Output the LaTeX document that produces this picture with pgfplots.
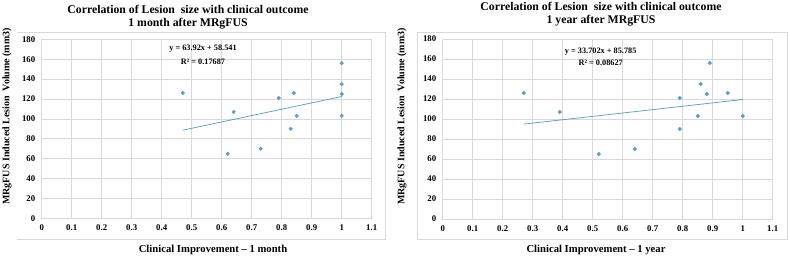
\documentclass[border=0pt]{standalone}
\usepackage{fontspec}
\setmainfont{Liberation Serif}
\usepackage{pgfplots}
\pgfplotsset{compat=1.18}
\definecolor{xlblue}{HTML}{5B9BD5}
\definecolor{xlgrid}{HTML}{D9D9D9}
\definecolor{xlframe}{HTML}{D9D9D9}
\pgfplotsset{
  xlstyle/.style={
    scale only axis,
    anchor=south west,
    xmin=0, xmax=1.1, ymin=0, ymax=180,
    xtick={0,0.1,...,1.1},
    xticklabels={0,0.1,0.2,0.3,0.4,0.5,0.6,0.7,0.8,0.9,1,1.1},
    ytick={0,20,...,180},
    grid=major,
    major grid style={xlgrid, line width=0.6bp},
    axis line style={xlgrid, line width=0.6bp},
    tick style={draw=none},
    /pgf/number format/assume math mode=true,
    ticklabel style={font=\fontsize{8.8}{10}\selectfont\bfseries},
    xticklabel style={yshift=-3bp},
    yticklabel style={xshift=-3bp},
    clip=false,
  }
}
\begin{document}
\begin{tikzpicture}[x=1bp,y=1bp]
\path[use as bounding box] (0,0) rectangle (789,259);
% frames
\draw[xlframe, line width=0.6bp] (17,20) -- (385,20) -- (385,227) -- (17,227);
\draw[xlframe, line width=0.6bp] (417,20) rectangle (787,227);

\begin{axis}[xlstyle, at={(41.7bp,40.7bp)}, width=330bp, height=179bp]
\addplot[only marks, mark=*, mark size=1.8bp, xlblue] coordinates {
(0.47,126) (0.62,65) (0.64,107) (0.73,70) (0.79,121) (0.83,90)
(0.84,126) (0.85,103) (1,156) (1,135) (1,125) (1,103)};
\addplot[xlblue, line width=0.75bp] coordinates {(0.47,88.583) (1,122.461)};
\end{axis}

\begin{axis}[xlstyle, at={(442.7bp,40bp)}, width=330bp, height=180bp]
\addplot[only marks, mark=*, mark size=1.8bp, xlblue] coordinates {
(0.27,126) (0.39,107) (0.52,65) (0.64,70) (0.79,121) (0.79,90)
(0.85,103) (0.86,135) (0.88,125) (0.89,156) (0.95,126) (1,103)};
\addplot[xlblue, line width=0.75bp] coordinates {(0.27,94.885) (1,119.487)};
\end{axis}

% titles
\node[font=\fontsize{11.8}{13.5}\selectfont\bfseries, align=center] at (188,242) {Correlation of Lesion\ \ size with clinical outcome\\1 month after MRgFUS};
\node[font=\fontsize{11.8}{13.5}\selectfont\bfseries, align=center] at (601,245) {Correlation of Lesion\ \ size with clinical outcome\\1 year after MRgFUS};
% equations
\node[font=\fontsize{8.3}{9}\selectfont\bfseries] at (203,210) {y = 63.92x + 58.541};
\node[font=\fontsize{8.3}{9}\selectfont\bfseries] at (203,197) {R² = 0.17687};
\node[font=\fontsize{8.3}{9}\selectfont\bfseries] at (600.7,207) {y = 33.702x + 85.785};
\node[font=\fontsize{8.3}{9}\selectfont\bfseries] at (600.7,196) {R² = 0.08627};
% axis labels
\node[font=\fontsize{10.7}{12}\selectfont\bfseries] at (213,9) {Clinical Improvement – 1 month};
\node[font=\fontsize{10.7}{12}\selectfont\bfseries] at (596,9) {Clinical Improvement – 1 year};
\node[font=\fontsize{10}{12}\selectfont\bfseries, rotate=90] at (7,142.5) {MRgFUS Induced Lesion\ \ Volume (mm3)};
\node[font=\fontsize{10}{12}\selectfont\bfseries, rotate=90] at (402,142.5) {MRgFUS Induced Lesion\ \ Volume (mm3)};
\end{tikzpicture}
\end{document}
